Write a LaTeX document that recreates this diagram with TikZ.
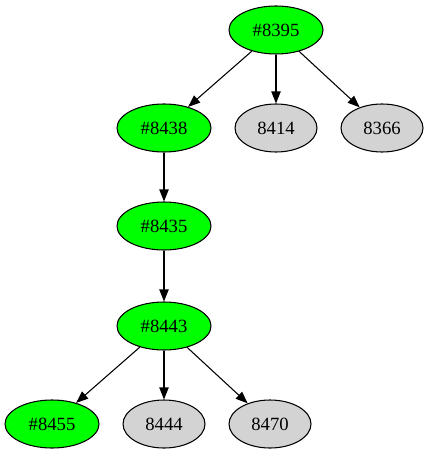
\documentclass[tikz,border=0pt]{standalone}
\usepackage{fontspec}
\setmainfont{Liberation Serif}
\usetikzlibrary{shapes.geometric,arrows.meta}
\definecolor{nodegreen}{HTML}{00FF00}
\definecolor{nodegrey}{HTML}{D3D3D3}
\begin{document}
\begin{tikzpicture}[x=0.75pt, y=-0.75pt, line width=0.8pt, >={Triangle[length=9pt, width=7pt]},
  found/.style={ellipse, draw, fill=nodegreen, minimum width=70.5pt, minimum height=36pt, inner sep=0pt, font=\fontsize{14pt}{16pt}\selectfont},
  other/.style={ellipse, draw, fill=nodegrey, minimum width=61.5pt, minimum height=36pt, inner sep=0pt, font=\fontsize{14pt}{16pt}\selectfont}]
  \useasboundingbox (0, 0) rectangle (429, 456);
  \node[found] (n8395) at (276, 30) {\#8395};
  \node[found] (n8438) at (164, 128) {\#8438};
  \node[other] (n8414) at (276, 128) {8414};
  \node[other] (n8366) at (382, 128) {8366};
  \node[found] (n8435) at (164, 226) {\#8435};
  \node[found] (n8443) at (164, 326) {\#8443};
  \node[found] (n8455) at (52, 424) {\#8455};
  \node[other] (n8444) at (164, 424) {8444};
  \node[other] (n8470) at (270, 424) {8470};
  \draw[->] (n8395) -- (n8438);
  \draw[->] (n8395) -- (n8414);
  \draw[->] (n8395) -- (n8366);
  \draw[->] (n8438) -- (n8435);
  \draw[->] (n8435) -- (n8443);
  \draw[->] (n8443) -- (n8455);
  \draw[->] (n8443) -- (n8444);
  \draw[->] (n8443) -- (n8470);
\end{tikzpicture}
\end{document}
